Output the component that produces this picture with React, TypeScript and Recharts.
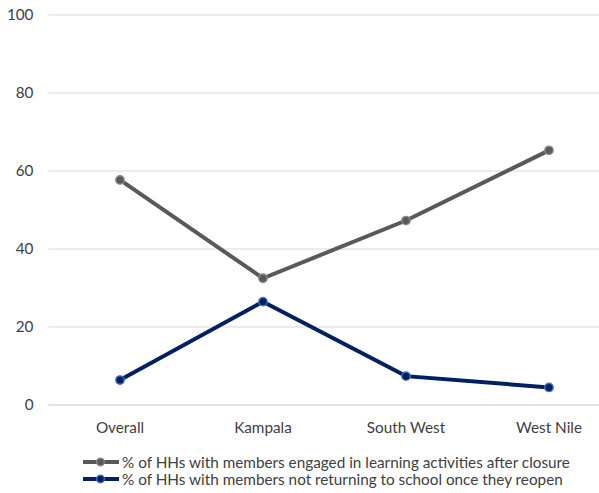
import React from "react";
import { LineChart, Line, XAxis, YAxis, CartesianGrid } from "recharts";

// Regions shown on the x axis
const regions = ["Overall", "Kampala", "South West", "West Nile"];

// % of HHs with members engaged in learning activities after closure
const learningValues = [57.7, 32.5, 47.3, 65.3];

// % of HHs with members not returning to school once they reopen
const notReturningValues = [6.4, 26.5, 7.4, 4.5];

const yTicks = [0, 20, 40, 60, 80, 100];

const seriesNames = [
  "% of HHs with members engaged in learning activities after closure",
  "% of HHs with members not returning to school once they reopen",
];

const data = regions.map((region, i) => ({
  region,
  learning: learningValues[i],
  notReturning: notReturningValues[i],
}));

const FONT = "Lato, 'Open Sans', sans-serif";
const GRAY = "#595959";
const GRAY_EDGE = "#8a8a8a";
const NAVY = "#002060";
const NAVY_EDGE = "#4472c4";
const TEXT = "#404040";

function makeDot(fill: string, edge: string) {
  return (props: any) => {
    const { cx, cy, index } = props;
    if (cx == null || cy == null) return null;
    return <circle key={index} cx={cx} cy={cy} r={4.2} fill={fill} stroke={edge} strokeWidth={1.4} />;
  };
}

function LegendIcon({ color, edge }: { color: string; edge: string }) {
  return (
    <svg width={38} height={10} style={{ display: "block" }}>
      <line x1={1} y1={5} x2={37} y2={5} stroke={color} strokeWidth={4} />
      <circle cx={18.5} cy={5} r={3.8} fill={color} stroke={edge} strokeWidth={1.3} />
    </svg>
  );
}

export default function App() {
  return (
    <div
      style={{
        position: "absolute",
        left: 0,
        top: 0,
        width: 599,
        height: 493,
        overflow: "hidden",
        background: "#fff",
        fontFamily: FONT,
      }}
    >
      <LineChart
        width={640}
        height={493}
        data={data}
        margin={{ top: 15, right: 19.5, bottom: 0, left: 0 }}
      >
        <CartesianGrid vertical={false} stroke="#d9d9d9" strokeWidth={1} />
        <XAxis
          dataKey="region"
          height={88}
          padding={{ left: 71.5, right: 71.5 }}
          axisLine={{ stroke: "#d9d9d9" }}
          tickLine={false}
          tickMargin={11}
          tick={{ fontSize: 15.3, fill: TEXT, fontFamily: FONT }}
          interval={0}
        />
        <YAxis
          width={48.5}
          domain={[0, 100]}
          ticks={yTicks}
          axisLine={false}
          tickLine={false}
          tickMargin={9}
          tick={{ fontSize: 15.3, fill: TEXT, fontFamily: FONT }}
        />
        <Line
          type="linear"
          dataKey="learning"
          stroke={GRAY}
          strokeWidth={4}
          dot={makeDot(GRAY, GRAY_EDGE)}
          activeDot={false}
          isAnimationActive={false}
        />
        <Line
          type="linear"
          dataKey="notReturning"
          stroke={NAVY}
          strokeWidth={4}
          dot={makeDot(NAVY, NAVY_EDGE)}
          activeDot={false}
          isAnimationActive={false}
        />
      </LineChart>

      {/* legend, two stacked rows below the axis labels */}
      <div style={{ position: "absolute", left: 82, top: 454, fontSize: 15.3, color: TEXT, lineHeight: "16.5px" }}>
        <div style={{ display: "flex", alignItems: "center" }}>
          <LegendIcon color={GRAY} edge={GRAY_EDGE} />
          <span style={{ marginLeft: 2, whiteSpace: "nowrap" }}>{seriesNames[0]}</span>
        </div>
        <div style={{ display: "flex", alignItems: "center" }}>
          <LegendIcon color={NAVY} edge={NAVY_EDGE} />
          <span style={{ marginLeft: 2, whiteSpace: "nowrap" }}>{seriesNames[1]}</span>
        </div>
      </div>
    </div>
  );
}
